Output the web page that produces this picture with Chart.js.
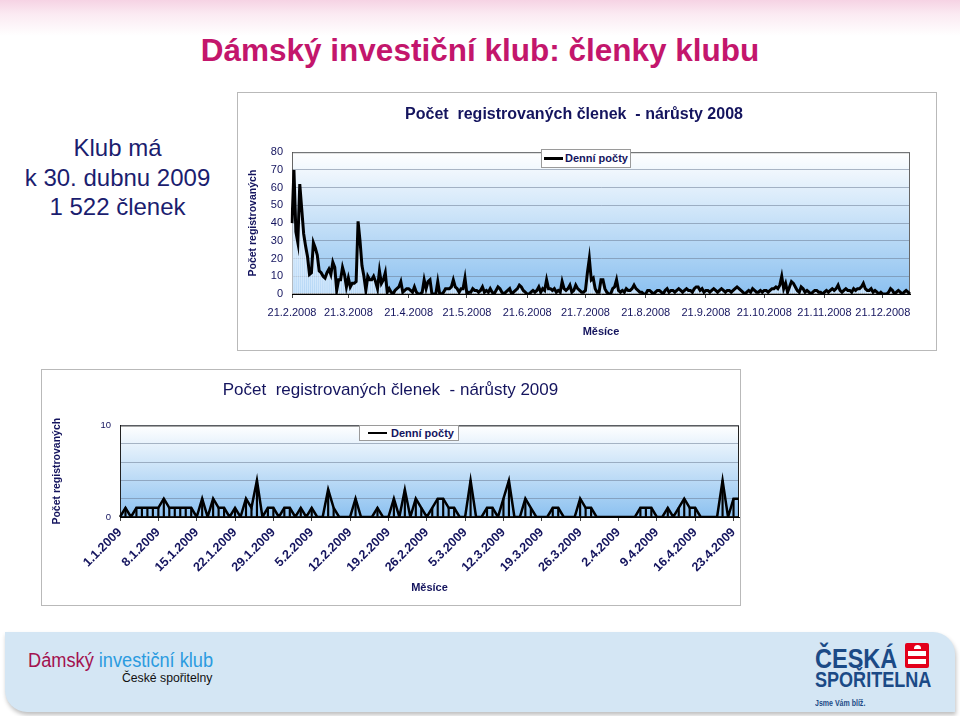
<!DOCTYPE html>
<html lang="cs">
<head>
<meta charset="utf-8">
<title>Dámský investiční klub: členky klubu</title>
<script src="https://cdn.jsdelivr.net/npm/chart.js@4.4.1/dist/chart.umd.min.js"></script>
<style>
  body { margin: 0; }
  #slide {
    position: relative; width: 960px; height: 716px; overflow: hidden;
    font-family: "Liberation Sans", Arial, sans-serif;
    background: linear-gradient(to bottom, #f6d3e4 0px, #fbeaf2 14px, #ffffff 36px);
  }
  h1 {
    position: absolute; left: 0; top: 31px; width: 960px; margin: 0;
    text-align: center; font-size: 31.5px; line-height: 38px; color: #c3166c;
  }
  .intro {
    position: absolute; left: 0; top: 133px; width: 235px;
    text-align: center; font-size: 24px; line-height: 29.5px; color: #1b1d6f;
  }
  .box {
    position: absolute; box-sizing: border-box; background: #fff;
    border: 1px solid #b9b9b9;
  }
  .box canvas { display: block; }
  .legend {
    position: absolute; box-sizing: border-box; background: #fff;
    border: 1px solid #9a9a9a; font-size: 11px; font-weight: bold; color: #14145e;
  }
  .legend i { position: absolute; background: #000; }
  .legend span { position: absolute; white-space: nowrap; line-height: 13px; }
  .footer {
    position: absolute; left: 5px; top: 632px; width: 950px; height: 80px;
    background: #d4e6f4; border-radius: 0 22px 0 22px;
    box-shadow: 1px 3px 4px rgba(0,0,0,0.25);
  }
  .narrow { position: absolute; white-space: nowrap; transform-origin: 0 0; }
</style>
</head>
<body>
<div id="slide">
  <h1>Dámský investiční klub: členky klubu</h1>
  <div class="intro">Klub má<br>k 30. dubnu 2009<br>1 522 členek</div>

  <div class="box" style="left:237px; top:92px; width:700px; height:259px;">
    <canvas id="chart2008" width="698" height="257"></canvas>
  </div>
  <div class="legend" style="left:541px; top:149px; width:90px; height:19px;">
    <i style="left:2px; top:7px; width:19px; height:3px;"></i>
    <span id="legend2008" style="left:23px; top:2px;"></span>
  </div>

  <div class="box" style="left:41px; top:369px; width:700px; height:237px;">
    <canvas id="chart2009" width="698" height="235"></canvas>
  </div>
  <div class="legend" style="left:359px; top:425px; width:100px; height:16px;">
    <i style="left:8px; top:6px; width:19px; height:2px;"></i>
    <span id="legend2009" style="left:31px; top:1px;"></span>
  </div>

  <div class="footer"></div>
  <div class="narrow" style="left:28px; top:648px; font-size:20px; line-height:24px; transform:scaleX(0.91);">
    <span style="color:#a3124f;">Dámský</span> <span style="color:#2b9be0;">investiční klub</span>
  </div>
  <div class="narrow" style="left:122px; top:670px; font-size:13px; line-height:16px; color:#111; transform:scaleX(0.94);">České spořitelny</div>

  <div class="narrow" style="left:815px; top:645px; font-size:28px; line-height:28px; font-weight:bold; color:#1b4a86; transform:scaleX(0.84);">ČESKÁ</div>
  <div style="position:absolute; left:905px; top:643px; width:24px; height:25px; background:#e3001b; border-radius:2px;">
    <div style="position:absolute; left:9px; top:2px; width:7px; height:4px; background:#fff; border-radius:4px 4px 0 0;"></div>
    <div style="position:absolute; left:3px; top:8px; width:18px; height:5px; background:#fff;"></div>
    <div style="position:absolute; left:3px; top:16px; width:18px; height:5px; background:#fff;"></div>
  </div>
  <div class="narrow" style="left:815px; top:669px; font-size:22px; line-height:22px; font-weight:bold; color:#1b4a86; transform:scaleX(0.82);">SPOŘITELNA</div>
  <div class="narrow" style="left:815px; top:698px; font-size:9px; line-height:11px; font-weight:bold; color:#1b4a86; transform:scaleX(0.78);">Jsme Vám blíž.</div>
</div>

<script>
// TEXTS
const seriesLabel = "Denní počty";
const title2008 = "Počet  registrovaných členek  - nárůsty 2008";
const title2009 = "Počet  registrovaných členek  - nárůsty 2009";
const yTitle = "Počet registrovaných";
const xTitle = "Měsíce";

// DAILY COUNTS 2008 (from 21.2.2008)
const daily2008 = [
  40, 70, 35, 29, 62, 48, 34, 27, 21, 11,
  12, 29, 26, 22, 13, 12, 10, 9, 12, 14,
  11, 18, 15, 2, 8, 8, 15, 11, 4, 9,
  4, 6, 6, 7, 41, 30, 16, 10, 2, 10,
  8, 8, 10, 7, 3, 13, 6, 8, 12, 1,
  3, 1, 0, 2, 3, 4, 7, 1, 2, 3,
  3, 2, 1, 4, 1, 0, 0, 1, 8, 3,
  7, 8, 0, 0, 0, 7, 0, 0, 1, 3,
  3, 3, 4, 8, 4, 3, 1, 3, 3, 9,
  0, 1, 1, 3, 2, 2, 1, 2, 4, 1,
  2, 1, 3, 1, 0, 2, 4, 3, 1, 0,
  1, 2, 3, 0, 1, 2, 3, 5, 4, 2,
  1, 0, 0, 1, 2, 1, 2, 4, 1, 3,
  2, 8, 3, 3, 2, 3, 1, 2, 1, 7,
  3, 2, 3, 5, 1, 2, 5, 3, 2, 1,
  1, 2, 12, 20, 8, 9, 3, 1, 1, 8,
  8, 3, 1, 0, 0, 3, 4, 8, 2, 1,
  2, 1, 3, 2, 2, 3, 5, 3, 2, 1,
  1, 0, 0, 2, 2, 1, 0, 1, 2, 2,
  1, 0, 2, 3, 1, 2, 2, 1, 2, 3,
  2, 1, 2, 3, 2, 2, 1, 3, 4, 4,
  2, 3, 1, 2, 2, 1, 2, 3, 2, 1,
  2, 3, 2, 1, 2, 2, 1, 2, 3, 4,
  3, 2, 1, 0, 1, 2, 1, 3, 2, 1,
  1, 2, 1, 2, 2, 1, 2, 3, 3, 4,
  3, 5, 10, 3, 6, 1, 4, 7, 6, 4,
  2, 1, 4, 3, 1, 2, 1, 0, 1, 2,
  2, 1, 1, 0, 1, 2, 1, 2, 3, 2,
  3, 5, 2, 1, 2, 3, 2, 2, 1, 3,
  2, 3, 3, 4, 6, 3, 2, 2, 3, 1,
  2, 1, 0, 1, 0, 0, 0, 1, 3, 2,
  0, 1, 2, 1, 0, 1, 2, 1, 0
];
const ticks2008 = ["21.2.2008", "21.3.2008", "21.4.2008", "21.5.2008", "21.6.2008", "21.7.2008",
  "21.8.2008", "21.9.2008", "21.10.2008", "21.11.2008", "21.12.2008"];

// DAILY COUNTS 2009 (from 1.1.2009)
const daily2009 = [
  0, 1, 0, 1, 1, 1, 1, 1, 2, 1,
  1, 1, 1, 1, 0, 2, 0, 2, 1, 1,
  0, 1, 0, 2, 1, 4, 0, 1, 1, 0,
  1, 1, 0, 1, 0, 1, 0, 0, 3, 1,
  0, 0, 0, 2, 0, 0, 0, 1, 0, 0,
  2, 0, 3, 0, 2, 1, 0, 1, 2, 2,
  1, 1, 0, 0, 4, 0, 0, 1, 1, 0,
  2, 4, 0, 0, 2, 1, 0, 0, 0, 1,
  1, 0, 0, 0, 2, 1, 1, 0, 0, 0,
  0, 0, 0, 0, 0, 1, 1, 1, 0, 0,
  1, 0, 1, 2, 1, 1, 0, 0, 0, 0,
  4, 0, 2, 2
];
const ticks2009 = ["1.1.2009", "8.1.2009", "15.1.2009", "22.1.2009", "29.1.2009", "5.2.2009",
  "12.2.2009", "19.2.2009", "26.2.2009", "5.3.2009", "12.3.2009", "19.3.2009", "26.3.2009",
  "2.4.2009", "9.4.2009", "16.4.2009", "23.4.2009"];

// day labels d.m.yyyy for each value
function dayLabels(start, count) {
  const out = [];
  for (let i = 0; i < count; i++) {
    const d = new Date(start.getFullYear(), start.getMonth(), start.getDate() + i);
    out.push(d.getDate() + "." + (d.getMonth() + 1) + "." + d.getFullYear());
  }
  return out;
}
const days2008 = dayLabels(new Date(2008, 1, 21), daily2008.length);
const days2009 = dayLabels(new Date(2009, 0, 1), daily2009.length);

const navy = "#14145e";
Chart.defaults.font.family = '"Liberation Sans", Arial, sans-serif';
Chart.defaults.color = navy;

// plot background gradient + frame
const plotFrame = {
  id: "plotFrame",
  beforeDraw(chart, args, opts) {
    const { ctx, chartArea: a } = chart;
    const g = ctx.createLinearGradient(0, a.top, 0, a.bottom);
    g.addColorStop(0, "#ffffff");
    g.addColorStop(1, opts.bottom);
    ctx.save();
    ctx.fillStyle = g;
    ctx.fillRect(a.left, a.top, a.right - a.left, a.bottom - a.top);
    ctx.restore();
  },
  beforeDatasetsDraw(chart, args, opts) {
    const { ctx, chartArea: a } = chart;
    ctx.save();
    ctx.strokeStyle = opts.border;
    ctx.lineWidth = 1;
    ctx.strokeRect(a.left + 0.5, a.top + 0.5, a.right - a.left - 1, a.bottom - a.top - 1);
    ctx.restore();
  }
};

function tickColor(list) {
  return (c) => (c.tick && list.includes(c.tick.label) ? "#444" : "rgba(0,0,0,0)");
}

// CHART 2008
const chart2008 = new Chart(document.getElementById("chart2008"), {
  type: "line",
  data: {
    labels: days2008,
    datasets: [
      { label: seriesLabel, data: daily2008, borderColor: "#000", backgroundColor: "#000",
        borderWidth: 3, pointRadius: 0, tension: 0, order: 0 },
      { type: "bar", label: "drop", data: daily2008, backgroundColor: "rgba(235,245,255,0.7)",
        barThickness: 1, order: 1 }
    ]
  },
  plugins: [plotFrame],
  options: {
    responsive: false, animation: false, devicePixelRatio: 1,
    layout: { padding: { left: 0, right: 26, top: 0, bottom: 0 } },
    plugins: {
      legend: { display: false },
      tooltip: { enabled: false },
      title: { display: true, text: title2008, color: navy, font: { size: 16, weight: "bold" },
        padding: { top: 12, bottom: 28 } },
      plotFrame: { bottom: "#8cc1f0", border: "#666" }
    },
    scales: {
      x: {
        offset: false,
        grid: { offset: false, drawOnChartArea: false, tickLength: 4, color: tickColor(ticks2008) },
        border: { color: "#000" },
        ticks: { autoSkip: false, maxRotation: 0, minRotation: 0, padding: 8, color: navy, font: { size: 11 },
          callback: (v, i) => (ticks2008.includes(days2008[i]) ? days2008[i] : "") },
        title: { display: true, text: xTitle, color: navy, font: { size: 11, weight: "bold" },
          padding: { top: 0, bottom: 11 } },
        afterFit(s) { s.height = 56; s.paddingLeft = 0; s.paddingRight = 0; }
      },
      y: {
        min: 0, max: 80,
        ticks: { stepSize: 10, color: navy, font: { size: 11 }, padding: 9 },
        grid: { color: "rgba(110,125,150,0.55)", drawTicks: false },
        border: { color: "#000" },
        title: { display: true, text: yTitle, color: navy, font: { size: 10.5, weight: "bold" },
          padding: { top: 9, bottom: 0 } },
        afterFit(s) { s.width = 54; }
      }
    }
  }
});

// CHART 2009
const chart2009 = new Chart(document.getElementById("chart2009"), {
  type: "line",
  data: {
    labels: days2009,
    datasets: [
      { label: seriesLabel, data: daily2009, borderColor: "#000", backgroundColor: "#000",
        borderWidth: 2.5, pointRadius: 0, tension: 0, order: 0 },
      { type: "bar", label: "drop", data: daily2009, backgroundColor: "#000",
        barThickness: 1.5, order: 1 }
    ]
  },
  plugins: [plotFrame],
  options: {
    responsive: false, animation: false, devicePixelRatio: 1,
    layout: { padding: { left: 0, right: 1, top: 0, bottom: 0 } },
    plugins: {
      legend: { display: false },
      tooltip: { enabled: false },
      title: { display: true, text: title2009, color: navy, font: { size: 17, weight: "normal" },
        padding: { top: 10, bottom: 25 } },
      plotFrame: { bottom: "#8cc1f0", border: "#222" }
    },
    scales: {
      x: {
        offset: false,
        grid: { offset: false, drawOnChartArea: false, tickLength: 4, color: tickColor(ticks2009) },
        border: { color: "#000" },
        ticks: { autoSkip: false, maxRotation: 45, minRotation: 45, padding: 4, color: navy,
          font: { size: 12.5, weight: "bold" },
          callback: (v, i) => (ticks2009.includes(days2009[i]) ? days2009[i] : "") },
        title: { display: true, text: xTitle, color: navy, font: { size: 11, weight: "bold" },
          padding: { top: 0, bottom: 10 } },
        afterFit(s) { s.height = 88; s.paddingLeft = 0; s.paddingRight = 0; }
      },
      y: {
        min: 0, max: 10,
        ticks: { stepSize: 2, color: navy, font: { size: 9.5 }, padding: 9,
          callback: (v) => (v === 0 || v === 10 ? v : "") },
        grid: { color: "rgba(110,125,150,0.55)", drawTicks: false },
        border: { color: "#000" },
        title: { display: true, text: yTitle, color: navy, font: { size: 10.5, weight: "bold" },
          padding: { top: 9, bottom: 0 } },
        afterFit(s) { s.width = 78; }
      }
    }
  }
});

document.getElementById("legend2008").textContent = chart2008.data.datasets[0].label;
document.getElementById("legend2009").textContent = chart2009.data.datasets[0].label;
</script>
</body>
</html>
